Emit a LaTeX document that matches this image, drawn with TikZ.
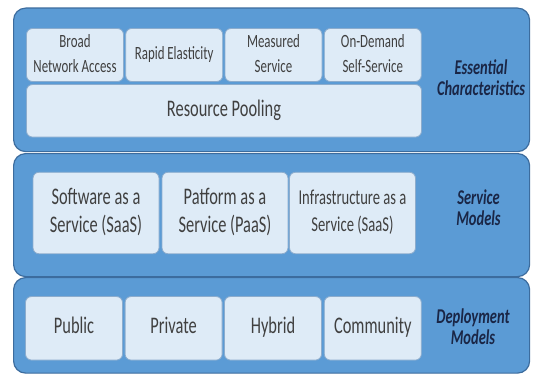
\documentclass[tikz,border=0pt]{standalone}
\usepackage{fontspec}
\setmainfont{Carlito}
\usepackage{graphicx}
\definecolor{bandfill}{RGB}{91,155,213}
\definecolor{bandline}{RGB}{60,108,158}
\definecolor{cellfill}{RGB}{222,235,247}
\definecolor{cellline}{RGB}{140,172,205}
\definecolor{celltext}{RGB}{64,64,64}
\definecolor{labeltext}{RGB}{26,38,70}
\newcommand{\vtext}[1]{\scalebox{1}[1.45]{\begin{tabular}{@{}c@{}}#1\end{tabular}}}
\begin{document}
\begin{tikzpicture}[x=1pt,y=-1pt,
  band/.style={draw=bandline, line width=1.2pt, fill=bandfill, rounded corners=12pt,
    anchor=north west, inner sep=0pt, minimum width=516pt},
  cell/.style={draw=cellline, line width=0.8pt, fill=cellfill, rounded corners=6pt,
    inner sep=0pt, text=celltext},
  smalltxt/.style={font=\fontsize{12.9}{17}\selectfont},
  midtxt/.style={font=\fontsize{16.4}{19}\selectfont},
  infotxt/.style={font=\fontsize{14.6}{18.5}\selectfont},
  lab/.style={inner sep=0pt, text=labeltext, font=\fontsize{14.5}{14.5}\selectfont\bfseries\itshape}]
\fill[white] (0,0) rectangle (534,374);
\useasboundingbox (0,0) rectangle (534,374);

% bands
\node[band, minimum height=143.5pt] (b1) at (13,7.5) {};
\node[band, minimum height=123pt] (b2) at (13,153) {};
\node[band, minimum height=95.5pt] (b3) at (13,277) {};

% essential characteristics
\node[cell, smalltxt, minimum width=97pt, minimum height=53pt] (bna) at (75,55) {\vtext{Broad\\Network Access}};
\node[cell, smalltxt, minimum width=97pt, minimum height=53pt] (re) at (174.2,55) {\vtext{Rapid Elasticity}};
\node[cell, smalltxt, minimum width=97pt, minimum height=53pt] (ms) at (273.5,55) {\vtext{Measured\\Service}};
\node[cell, smalltxt, minimum width=97pt, minimum height=53pt] (ods) at (372.8,55) {\vtext{On-Demand\\Self-Service}};
\node[cell, midtxt, minimum width=395pt, minimum height=52.5pt] (rp) at (224,110.8) {\vtext{Resource Pooling}};
\node[lab] (l1) at (481,81) {\vtext{Essential\\Characteristics}};

% service models
\node[cell, midtxt, minimum width=126pt, minimum height=81.5pt] (saas) at (96,213) {\vtext{Software as a\\Service (SaaS)}};
\node[cell, midtxt, minimum width=126pt, minimum height=81.5pt] (paas) at (225,213) {\vtext{Patform as a\\Service (PaaS)}};
\node[cell, infotxt, minimum width=126pt, minimum height=81.5pt] (iaas) at (352.5,213) {\vtext{Infrastructure as a\\Service (SaaS)}};
\node[lab] (l2) at (478.5,211) {\vtext{Service\\Models}};

% deployment models
\node[cell, midtxt, minimum width=97pt, minimum height=63.5pt] (pub) at (74,328.3) {\vtext{Public}};
\node[cell, midtxt, minimum width=97pt, minimum height=63.5pt] (pri) at (173.6,328.3) {\vtext{Private}};
\node[cell, midtxt, minimum width=97pt, minimum height=63.5pt] (hyb) at (273,328.3) {\vtext{Hybrid}};
\node[cell, midtxt, minimum width=97pt, minimum height=63.5pt] (com) at (372.8,328.3) {\vtext{Community}};
\node[lab] (l3) at (473,330) {\vtext{Deployment\\Models}};
\end{tikzpicture}
\end{document}
